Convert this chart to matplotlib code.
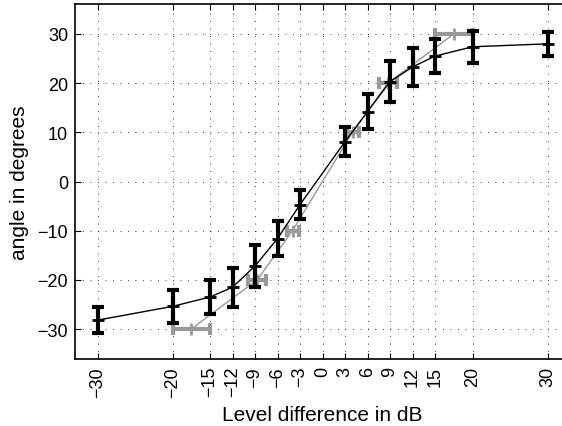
import matplotlib
matplotlib.use("Agg")
import matplotlib.pyplot as plt

plt.rcParams["font.family"] = ["Liberation Sans", "DejaVu Sans"]

# measured data (black) with vertical error bars
level_db = [-30, -20, -15, -12, -9, -6, -3, 3, 6, 9, 12, 15, 20, 30]
angle_deg = [-28.2, -25.4, -23.5, -21.5, -17.2, -11.6, -4.7,
             8.1, 14.2, 20.3, 23.3, 25.5, 27.4, 28.0]
angle_err = [2.7, 3.3, 3.5, 4.0, 4.3, 3.6, 3.0,
             3.0, 3.5, 4.2, 3.9, 3.5, 3.2, 2.5]

# reference data (gray) with horizontal error bars
ref_db = [-17.5, -8.7, -4.0, 4.0, 8.7, 17.5]
ref_deg = [-30, -20, -10, 10, 20, 30]
ref_err = [2.5, 1.2, 0.8, 0.8, 1.2, 2.5]

xticks = [-30, -20, -15, -12, -9, -6, -3, 0, 3, 6, 9, 12, 15, 20, 30]
yticks = [-30, -20, -10, 0, 10, 20, 30]

fig = plt.figure(figsize=(5.62, 4.27), dpi=100)
# right edge of the box lies just outside the picture, as in the original
ax = fig.add_axes([75 / 562, 1 - 360 / 427, 495 / 562, 355 / 427])

gray = "#999999"
ax.plot(ref_db, ref_deg, color=gray, lw=1.0, zorder=2)
ax.errorbar(ref_db, ref_deg, xerr=ref_err, fmt="none", ecolor=gray,
            elinewidth=3, capsize=4, capthick=3, zorder=3)
ax.plot(ref_db, ref_deg, "+", color=gray, ms=8, mew=2, zorder=3)

ax.plot(level_db, angle_deg, color="black", lw=1.0, zorder=4)
ax.errorbar(level_db, angle_deg, yerr=angle_err, fmt="none", ecolor="black",
            elinewidth=3, capsize=4.5, capthick=3, zorder=5)
ax.plot(level_db, angle_deg, "+", color="black", ms=9, mew=2, zorder=5)

ax.set_xlim(-33, 33)
ax.set_ylim(-36.1, 36.1)
ax.set_xticks(xticks)
ax.set_yticks(yticks)
ax.set_xticklabels([str(t).replace("-", "\u2212") for t in xticks],
                   rotation=90, fontsize=13)
ax.set_yticklabels([str(t).replace("-", "\u2212") for t in yticks], fontsize=13)
ax.tick_params(direction="in", top=True, right=True, length=4, width=0.8,
               pad=5)

ax.grid(True, color="black", linestyle=(0, (1, 8)), lw=0.6)
for s in ax.spines.values():
    s.set_linewidth(1.2)

ax.set_xlabel("Level difference in dB", fontsize=15, labelpad=6)
ax.set_ylabel("angle in degrees", fontsize=15, labelpad=6)

fig.savefig("out.png", dpi=100)
